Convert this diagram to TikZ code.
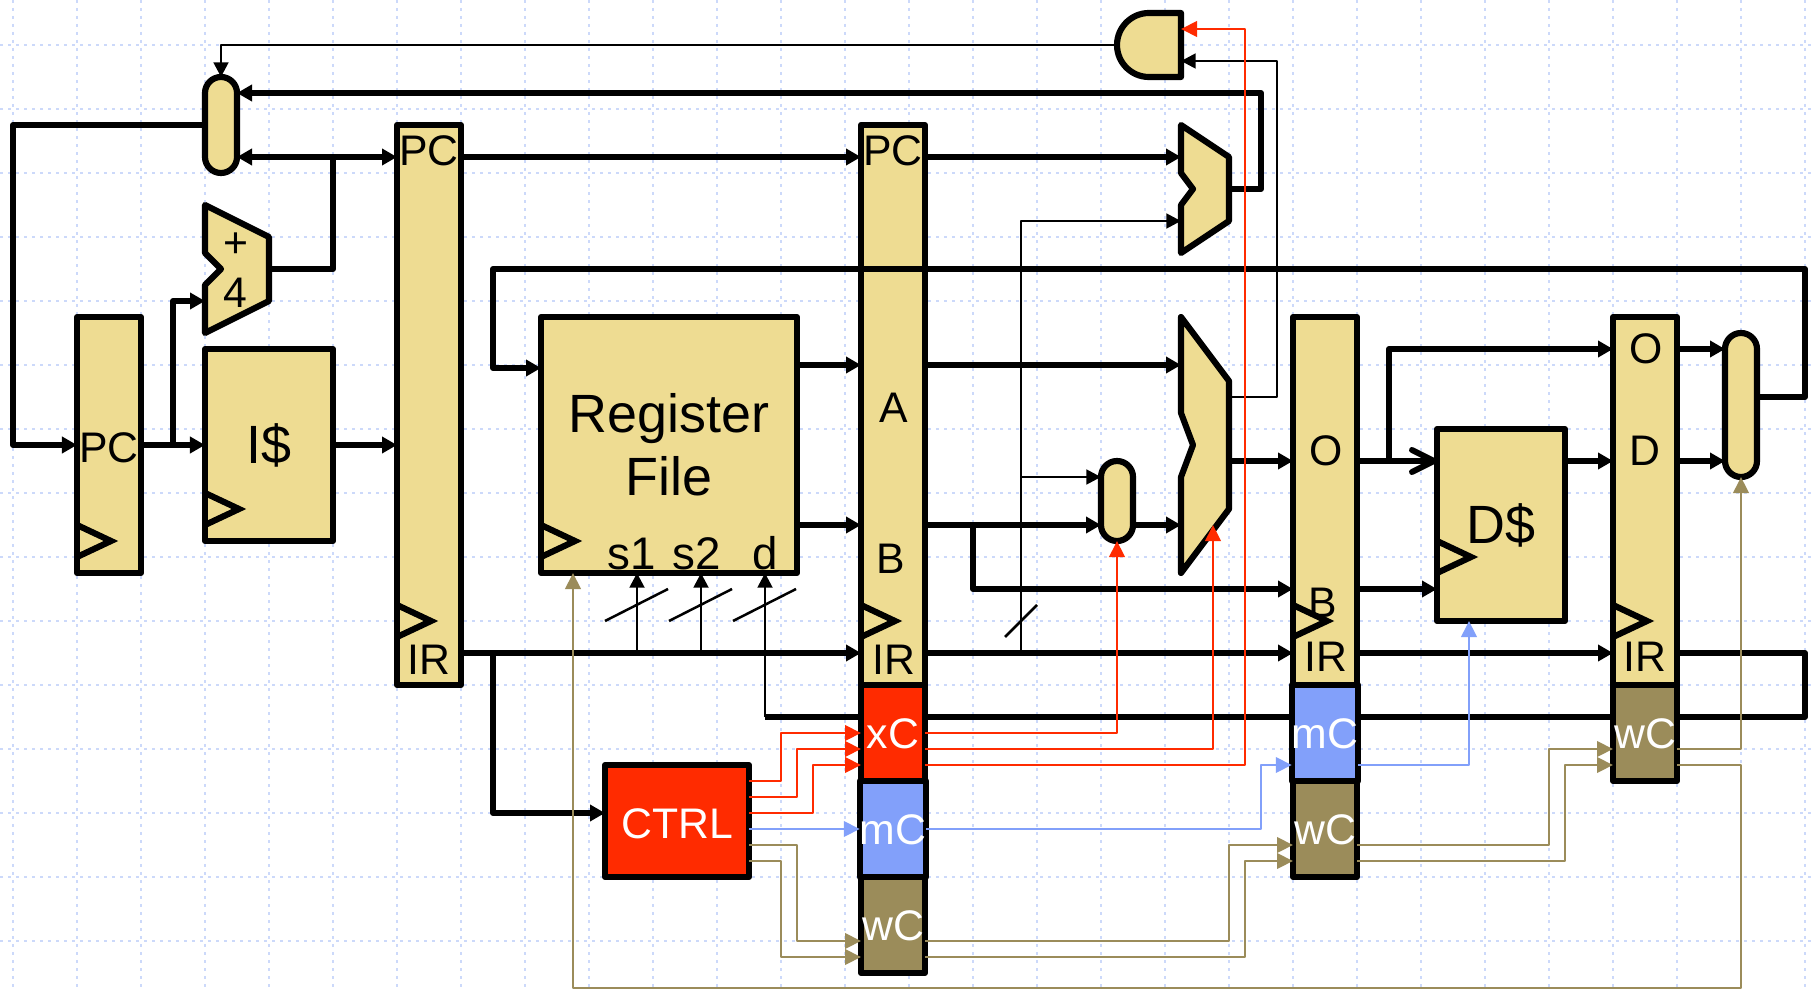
\documentclass[tikz,border=0pt]{standalone}
\usepackage{fontspec}
\setmainfont{Liberation Sans}
\usetikzlibrary{arrows.meta,positioning}
\pgfdeclarelayer{wires}
\pgfsetlayers{wires,main}
\definecolor{unitfill}{HTML}{EEDC92}
\definecolor{xred}{HTML}{FF2B00}
\definecolor{mblue}{HTML}{82A0FA}
\definecolor{wtan}{HTML}{9B8C5A}
\definecolor{gridblue}{HTML}{CCD9FA}
\begin{document}
\begin{tikzpicture}[
    x=0.03cm, y=-0.03cm,
    every node/.style={font=\fontsize{36.5}{44}\selectfont, inner sep=0pt, outer sep=0pt},
    unit/.style={draw, fill=unitfill, line width=1.85mm, line join=round},
    reg/.style={unit, minimum width=1.92cm},
    sect/.style={reg, minimum height=2.88cm, text=white, text height=0.95cm, text depth=0pt},
    block/.style={unit, minimum width=3.84cm, minimum height=5.76cm, align=center, font=\fontsize{46}{53.7}\selectfont},
    pill/.style={unit, minimum width=0.96cm, rounded corners=0.48cm},
    tag/.style={anchor=base},
    clock/.style={line width=1.85mm},
    gridline/.style={gridblue, line width=0.45mm, dash pattern=on 0.9mm off 1.5mm},
    flow/.style={-{Triangle[length=4.5mm,width=4.8mm]}, line width=1.8mm, line join=round},
    bus/.style={line width=1.8mm, line join=round},
    thinflow/.style={-{Triangle[length=4.4mm,width=4.4mm]}, line width=0.85mm, line join=round},
    tick/.style={line width=0.75mm},
    ctlflow/.style={-{Triangle[length=4.8mm,width=4.6mm]}, line width=0.85mm, line join=round}
]
\useasboundingbox (0,0) rectangle (1815,989);
\begin{pgfonlayer}{wires}
\foreach \gx in {13,77,...,1805} \draw[gridline] (\gx,0) -- (\gx,989);
\foreach \gy in {45,109,...,941} \draw[gridline] (0,\gy) -- (1815,\gy);
\end{pgfonlayer}

\node[reg, minimum height=7.68cm] (pc) at (109,445) {};
\node[reg, minimum height=16.8cm] (ifid) at (429,405) {};
\node[reg, minimum height=16.8cm] (idex) at (893,405) {};
\node[reg, minimum height=11.04cm] (exmem) at (1325,501) {};
\node[reg, minimum height=11.04cm] (memwb) at (1645,501) {};
\node[sect, fill=xred] (idexx) at (893,733) {xC};
\node[sect, fill=mblue] (idexm) at (893,829) {mC};
\node[sect, fill=wtan] (idexw) at (893,925) {wC};
\node[sect, fill=mblue] (exmemm) at (1325,733) {mC};
\node[sect, fill=wtan] (exmemw) at (1325,829) {wC};
\node[sect, fill=wtan] (memwbw) at (1645,733) {wC};
\node[block] (icache) at (269,445) {I\$};
\node[block, minimum width=7.68cm, minimum height=7.68cm] (rf) at (669,445) {Register\\File};
\node[block] (dcache) at (1501,525) {D\$};
\node[unit, fill=xred, text=white, minimum width=4.32cm, minimum height=3.36cm, text height=1.03cm, text depth=0pt] (ctrl) at (677,821) {CTRL};
\node[pill, minimum height=2.88cm] (pcmux) at (221,125) {};
\node[pill, minimum height=2.4cm] (bypass) at (1117,501) {};
\node[pill, minimum height=4.32cm] (wbmux) at (1741,405) {};

\draw[unit] (205,205) -- (269,237) -- (269,301) -- (205,333) -- (205,285) -- (221,269) -- (205,253) -- cycle;
\draw[unit] (1181,125) -- (1229,157) -- (1229,221) -- (1181,253) -- (1181,205) -- (1193,189) -- (1181,173) -- cycle;
\draw[unit] (1181,317) -- (1229,381) -- (1229,509) -- (1181,573) -- (1181,477) -- (1193,445) -- (1181,413) -- cycle;
\draw[unit] (1181,13) -- (1149,13) arc[start angle=90, end angle=270, x radius=32, y radius=-32] -- (1181,77) -- cycle;

\coordinate (addin) at (205,301);
\coordinate (addout) at (269,269);
\coordinate (jumpa) at (1181,157);
\coordinate (jumpb) at (1181,221);
\coordinate (jumpout) at (1229,189);
\coordinate (alua) at (1181,365);
\coordinate (alub) at (1181,525);
\coordinate (aluout) at (1229,461);
\coordinate (aluflag) at (1229,397);
\coordinate (alusel) at (1213,525);
\coordinate (andout) at (1117,45);
\coordinate (andx) at (1181,29);
\coordinate (andflag) at (1181,61);
\coordinate (pcfork) at (173,445);
\coordinate (addfork) at (333,157);
\coordinate (irfork) at (493,653);
\coordinate (bfork) at (973,525);
\coordinate (ofork) at (1389,461);
\coordinate (immtap) at (1021,653);
\coordinate (immfork) at (1021,477);
\coordinate (sonetap) at (637,653);
\coordinate (stwotap) at (701,653);
\coordinate (dtap) at (765,717);

\node[tag] (pctag) at (109,462) {PC};
\node[tag] (ifidpc) at (429,166) {PC};
\node[tag] (ifidir) at (429,674) {IR};
\node[tag] (idexpc) at (893,166) {PC};
\node[tag] (idexa) at (894,422) {A};
\node[tag] (idexb) at (891,573) {B};
\node[tag] (idexir) at (894,674) {IR};
\node[tag] (exmemo) at (1326,465) {O};
\node[tag] (exmemb) at (1323,617) {B};
\node[tag] (exmemir) at (1326,671) {IR};
\node[tag] (memwbo) at (1646,363) {O};
\node[tag] (memwbd) at (1645,465) {D};
\node[tag] (memwbir) at (1645,671) {IR};
\node[tag] (addplus) at (236,258) {+};
\node[tag] (addfour) at (235,308) {4};
\node[tag, font=\fontsize{39}{44}\selectfont] (rfsone) at (632,569) {s1};
\node[tag, font=\fontsize{39}{44}\selectfont] (rfstwo) at (697,569) {s2};
\node[tag, font=\fontsize{39}{44}\selectfont] (rfd) at (765,569) {d};

\foreach \cx/\cy in {77/541,205/509,397/621,541/541,861/621,1293/621,1437/557,1613/621}
    \draw[clock] (\cx,\cy) ++(0,-16) -- ++(34,16) -- ++(-34,16);

\begin{pgfonlayer}{wires}
\draw[bus] (memwb.east |- 0,653) -- (1805,653) -- (1805,717) -- (dtap);
\end{pgfonlayer}

\draw[thinflow] (dtap) -- (rf.south -| 765,0);
\draw[thinflow] (sonetap) -- (rf.south -| 637,0);
\draw[thinflow] (stwotap) -- (rf.south -| 701,0);
\foreach \sx in {605,669,733} \draw[tick] (\sx,621) -- ++(63,-32);
\draw[tick] (1005,637) -- ++(32,-32);
\draw[thinflow] (immtap) -- (1021,221) -- (jumpb);
\draw[thinflow] (immfork) -- (bypass.west |- 0,477);
\draw[thinflow] (aluflag) -- (1277,397) -- (1277,61) -- (andflag);
\draw[thinflow] (andout) -- (221,45) -- (pcmux.north);

\draw[flow] (pcmux.west |- 0,125) -- (13,125) -- (13,445) -- (pc.west |- 0,445);
\draw[flow] (pc.east |- 0,445) -- (icache.west |- 0,445);
\draw[flow] (pcfork) -- (173,301) -- (addin);
\draw[flow] (icache.east |- 0,445) -- (ifid.west |- 0,445);
\draw[bus] (addout) -- (333,269) -- (addfork);
\draw[{Triangle[length=4.5mm,width=4.8mm]}-{Triangle[length=4.5mm,width=4.8mm]}, bus] (pcmux.east |- 0,157) -- (ifid.west |- 0,157);
\draw[flow] (jumpout) -- (1261,189) -- (1261,93) -- (pcmux.east |- 0,93);
\draw[flow] (ifid.east |- 0,157) -- (idex.west |- 0,157);
\draw[flow] (idex.east |- 0,157) -- (jumpa);
\draw[flow] (wbmux.east |- 0,397) -- (1805,397) -- (1805,269) -- (493,269) -- (493,368) -- (rf.west |- 0,368);
\draw[flow] (rf.east |- 0,365) -- (idex.west |- 0,365);
\draw[flow] (rf.east |- 0,525) -- (idex.west |- 0,525);
\draw[flow] (idex.east |- 0,365) -- (alua);
\draw[flow] (idex.east |- 0,525) -- (bypass.west |- 0,525);
\draw[flow] (bypass.east |- 0,525) -- (alub);
\draw[flow] (bfork) -- (973,589) -- (exmem.west |- 0,589);
\draw[flow] (aluout) -- (exmem.west |- 0,461);
\draw[-{Straight Barb[length=6.6mm,width=6.6mm,round]}, bus] (exmem.east |- 0,461) -- (dcache.west |- 0,461);
\draw[flow] (ofork) -- (1389,349) -- (memwb.west |- 0,349);
\draw[flow] (memwb.east |- 0,349) -- (wbmux.west |- 0,349);
\draw[flow] (dcache.east |- 0,461) -- (memwb.west |- 0,461);
\draw[flow] (memwb.east |- 0,461) -- (wbmux.west |- 0,461);
\draw[flow] (exmem.east |- 0,589) -- (dcache.west |- 0,589);
\draw[flow] (ifid.east |- 0,653) -- (idex.west |- 0,653);
\draw[flow] (idex.east |- 0,653) -- (exmem.west |- 0,653);
\draw[flow] (exmem.east |- 0,653) -- (memwb.west |- 0,653);
\draw[flow] (irfork) -- (493,813) -- (ctrl.west |- 0,813);

\draw[ctlflow, xred] (ctrl.east |- 0,781) -- (781,781) -- (781,733) -- (idexx.west |- 0,733);
\draw[ctlflow, xred] (ctrl.east |- 0,797) -- (797,797) -- (797,749) -- (idexx.west |- 0,749);
\draw[ctlflow, xred] (ctrl.east |- 0,813) -- (813,813) -- (813,765) -- (idexx.west |- 0,765);
\draw[ctlflow, xred] (idexx.east |- 0,733) -- (1117,733) -- (bypass.south);
\draw[ctlflow, xred] (idexx.east |- 0,749) -- (1213,749) -- (alusel);
\draw[ctlflow, xred] (idexx.east |- 0,765) -- (1245,765) -- (1245,29) -- (andx);
\draw[ctlflow, mblue] (ctrl.east |- 0,829) -- (idexm.west |- 0,829);
\draw[ctlflow, mblue] (idexm.east |- 0,829) -- (1261,829) -- (1261,765) -- (exmemm.west |- 0,765);
\draw[ctlflow, mblue] (exmemm.east |- 0,765) -- (1469,765) -- (dcache.south -| 1469,0);
\draw[ctlflow, wtan] (ctrl.east |- 0,845) -- (797,845) -- (797,941) -- (idexw.west |- 0,941);
\draw[ctlflow, wtan] (ctrl.east |- 0,861) -- (781,861) -- (781,957) -- (idexw.west |- 0,957);
\draw[ctlflow, wtan] (idexw.east |- 0,941) -- (1229,941) -- (1229,845) -- (exmemw.west |- 0,845);
\draw[ctlflow, wtan] (idexw.east |- 0,957) -- (1245,957) -- (1245,861) -- (exmemw.west |- 0,861);
\draw[ctlflow, wtan] (exmemw.east |- 0,845) -- (1549,845) -- (1549,749) -- (memwbw.west |- 0,749);
\draw[ctlflow, wtan] (exmemw.east |- 0,861) -- (1565,861) -- (1565,765) -- (memwbw.west |- 0,765);
\draw[ctlflow, wtan] (memwbw.east |- 0,749) -- (1741,749) -- (wbmux.south);
\draw[ctlflow, wtan] (memwbw.east |- 0,765) -- (1741,765) -- (1741,988) -- (573,988) -- (rf.south -| 573,0);
\end{tikzpicture}
\end{document}
